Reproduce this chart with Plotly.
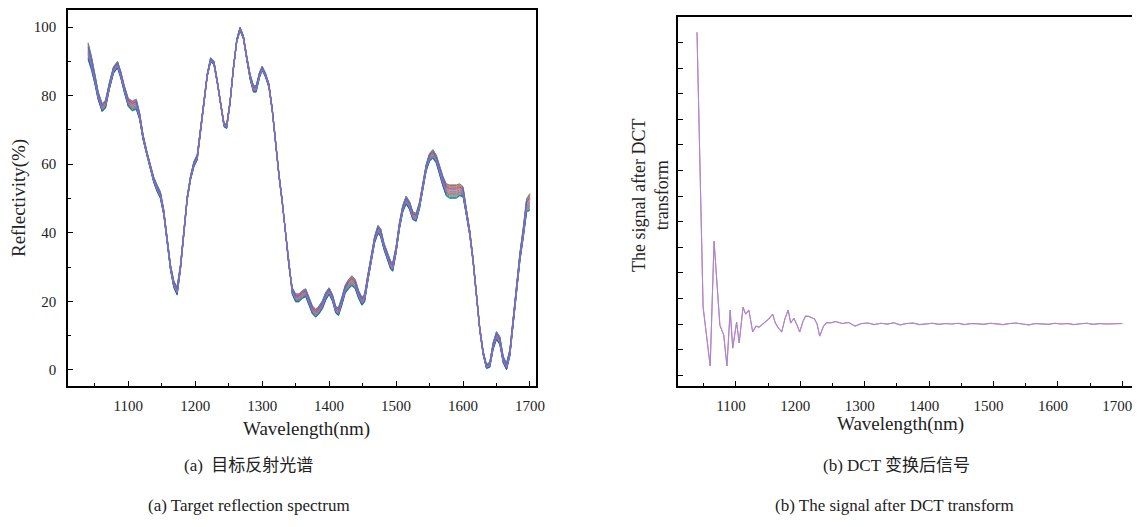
import plotly.graph_objects as go

# ---------------- data: (a) reflectance spectra ----------------
wavelength = [1040, 1045, 1050, 1055, 1061, 1066, 1072, 1078, 1084, 1089, 1094, 1100, 1106, 1112,
              1117, 1122, 1128, 1133, 1138, 1143, 1148, 1153, 1158, 1163, 1168, 1173, 1178, 1183,
              1188, 1193, 1198, 1203, 1208, 1213, 1218, 1223, 1228, 1233, 1238, 1243, 1247, 1252,
              1257, 1262, 1267, 1272, 1277, 1282, 1287, 1291, 1296, 1300, 1305, 1310, 1315, 1320,
              1325, 1330, 1335, 1340, 1345, 1350, 1355, 1360, 1365, 1370, 1375, 1380, 1385, 1390,
              1395, 1400, 1405, 1410, 1414, 1419, 1424, 1429, 1434, 1439, 1444, 1449, 1453, 1458,
              1463, 1468, 1473, 1477, 1482, 1487, 1492, 1495, 1500, 1505, 1510, 1515, 1520, 1525,
              1530, 1535, 1540, 1545, 1550, 1555, 1560, 1565, 1570, 1575, 1580, 1585, 1590, 1595,
              1600, 1605, 1610, 1615, 1620, 1625, 1630, 1635, 1640, 1645, 1650, 1655, 1660, 1665,
              1670, 1675, 1680, 1685, 1690, 1695, 1700]
base_reflectivity = [93, 89.5, 85, 80, 76.5, 77.5, 83, 87.5, 89, 86, 82, 78, 77, 77.5,
                     74, 68, 63, 59, 55.5, 53, 51, 46, 38, 30, 25, 23, 30, 41,
                     50, 56, 60, 62, 70, 79, 86, 90.5, 89.5, 84, 77, 71.5, 71, 78,
                     88, 96, 99.5, 97, 91, 85.5, 82, 82, 86, 88, 86, 83, 76, 66,
                     57, 49, 40, 30, 23, 21, 21, 22, 22.5, 20, 17.5, 16.5, 17.5, 19,
                     21.5, 23, 21, 17.5, 17, 20, 23.5, 25, 26, 25, 22, 20, 21, 27,
                     33, 38, 41, 40, 36, 33, 30.5, 30, 35, 42, 47, 49.5, 48, 45,
                     44.5, 48, 54, 59, 62, 63, 61.5, 58, 55, 52.5, 52, 52, 52, 52.5,
                     52, 46, 40, 32, 22, 12, 5, 1, 1.5, 7, 10, 8.5, 3, 1,
                     5, 15, 25, 33, 40, 48, 49]
spread = [2.5, 2, 1.5, 1.2, 1.2, 1.2, 1, 1, 1, 1, 1, 1.2, 1.5, 1.5,
          1, 0.8, 0.6, 0.6, 0.8, 1, 1, 0.8, 0.6, 0.8, 1, 1.2, 0.8, 0.6,
          0.6, 0.6, 0.8, 0.8, 0.5, 0.5, 0.5, 0.6, 0.6, 0.5, 0.5, 0.6, 0.6, 0.5,
          0.5, 0.5, 0.5, 0.5, 0.6, 0.8, 1, 1, 0.8, 0.6, 0.6, 0.6, 0.5, 0.5,
          0.5, 0.5, 0.5, 0.6, 1, 1.2, 1.2, 1.2, 1.2, 1.2, 1.2, 1.2, 1.2, 1.2,
          1.2, 1, 1, 1, 1.2, 1.2, 1.2, 1.4, 1.5, 1.4, 1.2, 1.2, 1.2, 1,
          1, 1, 1.2, 1.2, 1, 1, 1.2, 1.3, 1, 1, 1, 1.2, 1.2, 1.2,
          1.2, 1, 1, 1, 1.2, 1.3, 1.2, 1.2, 1.5, 1.8, 2, 2, 2, 1.8,
          1.5, 1, 0.8, 0.6, 0.6, 0.6, 0.6, 0.6, 0.8, 1, 1.2, 1.2, 1, 1,
          1, 1, 1, 1.2, 1.5, 2, 2.5]
sample_weights = [0.9, -0.8, 0.6, -0.3, 0.2, -1.0, 0.8, -0.5, 0.4, -0.15,
                  0.7, -0.65, 0.1, -0.9, 0.3, 1.0, -0.2, 0.5, -0.4, 0.0]
sample_colors = ["#d62728", "#2ca02c", "#c9b400", "#1f77b4", "#e377c2", "#17becf",
                 "#ff7f0e", "#8c564b", "#7f7f7f", "#9467bd", "#ef4b4b", "#3a9a55",
                 "#b8a000", "#2b4fa8", "#c85ab0", "#20a0b0", "#f08a30", "#5a5ad0",
                 "#a070d0", "#6e6ed8"]

# ---------------- data: (b) DCT signal ----------------
dct_wavelength = [1039.5, 1049, 1060, 1066, 1075, 1081, 1086, 1091, 1095, 1101, 1105, 1111, 1115,
                  1120, 1126, 1131, 1136, 1141, 1146, 1151, 1157, 1161, 1165, 1171, 1176, 1181,
                  1185, 1190, 1195, 1199, 1204, 1208, 1213, 1218, 1222, 1226, 1230, 1236, 1241,
                  1246, 1255, 1265, 1275, 1285, 1295, 1305, 1315, 1325, 1335, 1345, 1355, 1365,
                  1375, 1385, 1395, 1405, 1415, 1425, 1435, 1445, 1455, 1465, 1475, 1485, 1495,
                  1505, 1515, 1525, 1535, 1545, 1555, 1565, 1575, 1585, 1595, 1605, 1615, 1625,
                  1635, 1645, 1655, 1665, 1675, 1685, 1695, 1700]
dct_signal = [11.4, 0.66, -1.64, 3.24, -0.04, -0.43, -1.64, 0.55, -0.94, 0.08, -0.74, 0.66, 0.39,
              0.55, -0.31, -0.08, -0.12, 0.0, 0.1, 0.2, 0.39, 0.05, -0.12, -0.31, 0.2, 0.55,
              0.04, 0.23, -0.05, -0.31, 0.1, 0.31, 0.3, 0.25, 0.2, 0.0, -0.47, -0.08, 0.06,
              0.04, 0.1, 0.02, 0.06, -0.08, 0.02, 0.04, -0.02, 0.03, 0.0, 0.05, -0.03, 0.02,
              0.04, -0.02, 0.01, 0.03, -0.01, 0.02, 0.0, 0.03, -0.02, 0.02, 0.01, -0.01, 0.03,
              0.0, -0.02, 0.02, 0.04, 0.0, -0.03, 0.02, 0.01, -0.01, 0.03, 0.0, 0.02, -0.02,
              0.01, 0.03, -0.01, 0.02, 0.0, 0.01, 0.02, 0.02]

x_ticks = [1100, 1200, 1300, 1400, 1500, 1600, 1700]
refl_ticks = [0, 20, 40, 60, 80, 100]
dct_ticks = [-2, -1, 0, 1, 2, 3, 4, 5, 6, 7, 8, 9, 10, 11]

FONT = "Liberation Serif, Times New Roman, serif"
CJK = "Liberation Serif, Noto Sans CJK SC, serif"

# page body has an 8px margin: build the figure smaller and place items in page pixels
OFF = 8
W, H = 1140 - OFF, 527 - 2 * OFF


def fx(px):
    return (px - OFF) / W


def fy(py):
    return 1 - (py - OFF) / H


fig = go.Figure()

for i, wgt in enumerate(sample_weights):
    ys = [b + wgt * s for b, s in zip(base_reflectivity, spread)]
    fig.add_trace(go.Scatter(x=wavelength, y=ys, mode="lines",
                             line=dict(color=sample_colors[i % len(sample_colors)], width=1),
                             opacity=0.85, showlegend=False, xaxis="x", yaxis="y"))

fig.add_trace(go.Scatter(x=dct_wavelength, y=dct_signal, mode="lines",
                         line=dict(color="#e07a8a", width=1), showlegend=False,
                         xaxis="x2", yaxis="y2"))
fig.add_trace(go.Scatter(x=dct_wavelength, y=dct_signal, mode="lines",
                         line=dict(color="#a688d8", width=1.1), showlegend=False,
                         xaxis="x2", yaxis="y2"))

axis_common = dict(showline=True, linecolor="black", linewidth=1.6, mirror=True,
                   ticks="inside", ticklen=5, tickwidth=1.3, tickcolor="black",
                   showgrid=False, zeroline=False,
                   tickfont=dict(family=FONT, size=15, color="#222"))
minor_x = dict(ticks="inside", ticklen=3, tickwidth=1.2, tickcolor="black", dtick=50, tick0=1050)

fig.update_layout(
    width=W, height=H,
    margin=dict(l=0, r=0, t=0, b=0, autoexpand=False),
    paper_bgcolor="white", plot_bgcolor="white",
    xaxis=dict(domain=[fx(68), fx(536)], range=[1010, 1709], tickvals=x_ticks, minor=minor_x,
               ticklabelstandoff=5, anchor="y", **axis_common),
    yaxis=dict(domain=[fy(386), fy(10)], range=[-4.7, 105], tickvals=refl_ticks,
               minor=dict(ticks="inside", ticklen=3, tickwidth=1.2, tickcolor="black", dtick=10, tick0=10),
               ticklabelstandoff=7, anchor="x", **axis_common),
    xaxis2=dict(domain=[fx(678), fx(1132)], range=[1010, 1715], tickvals=x_ticks, minor=minor_x,
                ticklabelstandoff=5, ticklabelshift=-5, anchor="y2", **axis_common),
    yaxis2=dict(domain=[fy(386), fy(17)], range=[-2.42, 12.0], tickvals=dct_ticks,
                showticklabels=False, anchor="x2", **axis_common),
)

annots = [
    dict(text="Wavelength(nm)", x=306, y=429, size=19),
    dict(text="Wavelength(nm)", x=900, y=424, size=19),
    dict(text="(a)  目标反射光谱", x=248, y=465, size=17, font=CJK),
    dict(text="(a) Target reflection spectrum", x=249, y=505, size=17),
    dict(text="(b) DCT 变换后信号", x=896, y=465, size=17, font=CJK),
    dict(text="(b) The signal after DCT transform", x=894, y=505, size=17),
]
for a in annots:
    fig.add_annotation(text=a["text"], x=fx(a["x"]), y=fy(a["y"]),
                       xref="paper", yref="paper", showarrow=False,
                       xanchor="center", yanchor="middle",
                       font=dict(family=a.get("font", FONT), size=a["size"], color="#222"))

fig.add_annotation(text="Reflectivity(%)", x=fx(19), y=fy(198), xref="paper", yref="paper",
                   showarrow=False, textangle=-90, xanchor="center", yanchor="middle",
                   font=dict(family=FONT, size=19, color="#222"))
fig.add_annotation(text="The signal after DCT<br>transform", x=fx(650), y=fy(196),
                   xref="paper", yref="paper", showarrow=False, textangle=-90,
                   xanchor="center", yanchor="middle",
                   font=dict(family=FONT, size=18, color="#222"))

fig.write_html("out.html")
